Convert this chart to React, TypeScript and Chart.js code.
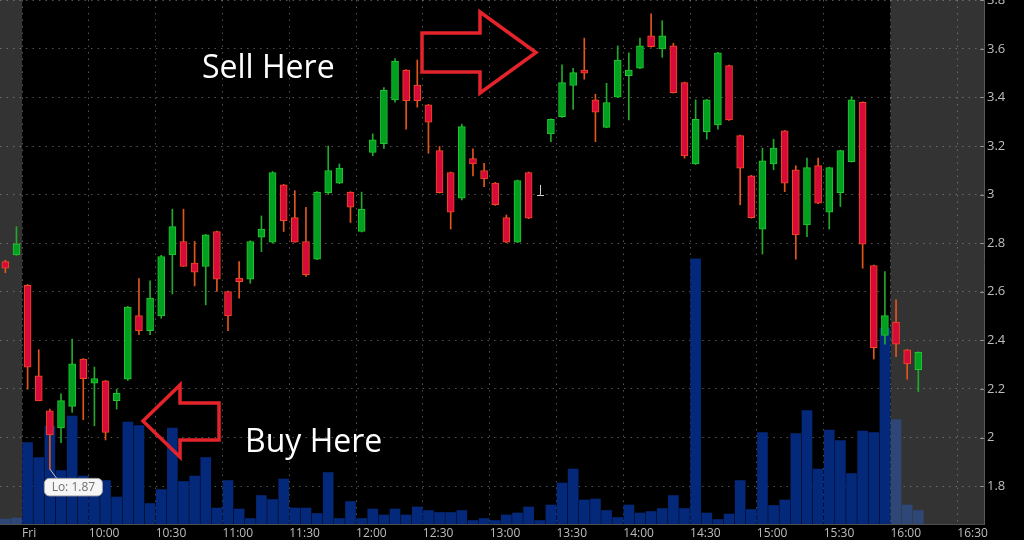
import React, { useEffect, useRef } from "react";
import { Chart, registerables } from "chart.js";
Chart.register(...registerables);

// 5-minute bar start times (Friday session incl. extended hours)
const TIMES: string[] = [
  "09:20", "09:25",
  "09:30", "09:35", "09:40", "09:45", "09:50", "09:55",
  "10:00", "10:05", "10:10", "10:15", "10:20", "10:25",
  "10:30", "10:35", "10:40", "10:45", "10:50", "10:55",
  "11:00", "11:05", "11:10", "11:15", "11:20", "11:25",
  "11:30", "11:35", "11:40", "11:45", "11:50", "11:55",
  "12:00", "12:05", "12:10", "12:15", "12:20", "12:25",
  "12:30", "12:35", "12:40", "12:45", "12:50", "12:55",
  "13:00", "13:05", "13:10", "13:15", "13:20", "13:25",
  "13:30", "13:35", "13:40", "13:45", "13:50", "13:55",
  "14:00", "14:05", "14:10", "14:15", "14:20", "14:25",
  "14:30", "14:35", "14:40", "14:45", "14:50", "14:55",
  "15:00", "15:05", "15:10", "15:15", "15:20", "15:25",
  "15:30", "15:35", "15:40", "15:45", "15:50", "15:55",
  "16:00", "16:05", "16:10",
];

const OPEN: (number | null)[] = [
  2.724, 2.752,
  2.626, 2.254, 2.110, 2.039, 2.128, 2.323,
  2.224, 2.233, 2.152, 2.240, 2.502, 2.440,
  2.501, 2.752, 2.807, 2.718, 2.704, 2.848,
  2.601, 2.656, 2.652, 2.825, 2.804, 3.040,
  2.905, 2.807, 2.734, 3.008, 3.047, 3.010,
  2.848, 3.174, 3.210, 3.390, 3.513, 3.451,
  3.369, 3.181, 3.091, 2.985, 3.148, 3.099,
  3.047, 2.905, 2.804, 3.091, null, 3.250,
  3.321, 3.449, 3.513, 3.390, 3.277, 3.401,
  3.490, 3.520, 3.654, 3.600, 3.612, 3.461,
  3.126, 3.259, 3.287, 3.531, 3.243, 3.077,
  2.858, 3.126, 3.262, 3.102, 2.875, 3.119,
  2.928, 3.008, 3.136, 3.380, 2.708, 2.420,
  2.475, 2.361, 2.279,
];

const HIGH: (number | null)[] = [
  2.730, 2.868,
  2.630, 2.361, 2.117, 2.180, 2.405, 2.325,
  2.290, 2.235, 2.199, 2.540, 2.654, 2.645,
  2.750, 2.940, 2.940, 2.807, 2.836, 2.850,
  2.603, 2.724, 2.810, 2.912, 3.095, 3.042,
  3.016, 2.948, 3.012, 3.200, 3.126, 3.012,
  3.010, 3.250, 3.440, 3.560, 3.515, 3.554,
  3.371, 3.198, 3.093, 3.290, 3.188, 3.129,
  3.050, 2.916, 3.060, 3.093, null, 3.312,
  3.534, 3.520, 3.644, 3.413, 3.458, 3.612,
  3.584, 3.644, 3.744, 3.716, 3.623, 3.463,
  3.390, 3.392, 3.586, 3.533, 3.245, 3.079,
  3.191, 3.228, 3.264, 3.118, 3.150, 3.150,
  3.113, 3.183, 3.403, 3.382, 2.710, 2.683,
  2.567, 2.363, 2.353,
];

const LOW: (number | null)[] = [
  2.678, 2.750,
  2.199, 2.151, 1.870, 1.979, 2.103, 2.073,
  2.048, 1.990, 2.117, 2.235, 2.423, 2.423,
  2.491, 2.591, 2.704, 2.624, 2.546, 2.601,
  2.440, 2.574, 2.635, 2.765, 2.800, 2.848,
  2.804, 2.663, 2.732, 3.000, 3.045, 2.885,
  2.846, 3.160, 3.190, 3.380, 3.269, 3.360,
  3.170, 3.006, 2.858, 2.978, 3.077, 3.033,
  2.956, 2.802, 2.802, 2.901, null, 3.218,
  3.318, 3.351, 3.475, 3.218, 3.275, 3.399,
  3.307, 3.518, 3.607, 3.565, 3.418, 3.150,
  3.124, 3.228, 3.269, 3.305, 2.958, 2.903,
  2.755, 3.102, 3.012, 2.734, 2.827, 2.963,
  2.858, 2.951, 3.134, 2.697, 2.323, 2.384,
  2.333, 2.240, 2.189,
];

const CLOSE: (number | null)[] = [
  2.697, 2.797,
  2.290, 2.151, 2.011, 2.152, 2.303, 2.242,
  2.243, 2.021, 2.183, 2.537, 2.440, 2.574,
  2.745, 2.868, 2.704, 2.681, 2.834, 2.652,
  2.501, 2.642, 2.807, 2.858, 3.091, 2.893,
  2.804, 2.670, 3.010, 3.099, 3.109, 2.948,
  2.940, 3.225, 3.430, 3.550, 3.387, 3.387,
  3.298, 3.008, 2.928, 3.280, 3.126, 3.065,
  2.958, 2.804, 3.058, 2.903, null, 3.310,
  3.461, 3.502, 3.500, 3.339, 3.379, 3.554,
  3.513, 3.612, 3.609, 3.654, 3.420, 3.159,
  3.310, 3.390, 3.584, 3.307, 3.109, 2.905,
  3.139, 3.191, 3.047, 2.834, 3.111, 2.965,
  3.111, 3.181, 3.390, 2.796, 2.370, 2.502,
  2.384, 2.303, 2.351,
];

// volume, thousands of shares
const VOLUME: number[] = [
  10, 12,
  163, 133, 196, 107, 216, 96,
  88, 87, 54, 204, 197, 41,
  69, 192, 85, 96, 133, 32,
  87, 30, 11, 57, 49, 90,
  32, 32, 21, 103, 11, 45,
  11, 30, 18, 30, 18, 34,
  27, 23, 23, 27, 7, 11,
  7, 18, 22, 34, 7, 38,
  82, 110, 48, 50, 27, 13,
  38, 22, 25, 31, 57, 31,
  531, 22, 9, 20, 87, 29,
  183, 37, 48, 181, 227, 110,
  188, 167, 101, 186, 183, 392,
  209, 38, 27,
];

const X_TICKS: string[] = [
  "09:30", "10:00", "10:30", "11:00", "11:30", "12:00", "12:30", "13:00",
  "13:30", "14:00", "14:30", "15:00", "15:30", "16:00", "16:30",
];
const X_TICK_LABELS: string[] = [
  "Fri", "10:00", "10:30", "11:00", "11:30", "12:00", "12:30", "13:00",
  "13:30", "14:00", "14:30", "15:00", "15:30", "16:00", "16:30",
];
const PRICE_TICKS: number[] = [1.8, 2, 2.2, 2.4, 2.6, 2.8, 3, 3.2, 3.4, 3.6, 3.8];

const SESSION_OPEN = "09:30";
const SESSION_CLOSE = "16:00";
const LOW_LABEL_INDEX = 4; // the 09:40 bar
const HALT_MARK_INDEX = 48; // the 13:10 bar
const HALT_MARK_PRICES: number[] = [3.0, 3.04];

const X_MIN = 560.1;
const X_MAX = 1002;
const Y_MIN = 1.644;
const Y_MAX = 3.801;
const VOL_MAX = 1049;

const toMin = (s: string) => {
  const [h, m] = s.split(":").map(Number);
  return h * 60 + m;
};
const center = (s: string) => toMin(s) + 2.5;

const UP_FILL = "#02a021";
const UP_BORDER = "#25c531";
const UP_WICK = "#22a82c";
const DN_FILL = "#d70a3a";
const DN_BORDER = "#f24a1d";
const DN_WICK = "#e2561c";
const VOL_COLOR = "#04297a";
const VOL_EXT_COLOR = "#2e4777";
const GRID = "rgba(165,165,165,0.5)";
const TICK_TEXT = "#bdbdbd";

const idx = TIMES.map((_, i) => i).filter((i) => OPEN[i] !== null);
const isUp = (i: number) => (CLOSE[i] as number) >= (OPEN[i] as number);
const isExt = (t: string) => toMin(t) < toMin(SESSION_OPEN) || toMin(t) >= toMin(SESSION_CLOSE);

const bgPlugin = {
  id: "bg",
  beforeDraw(chart: any) {
    const { ctx, chartArea: ca, scales } = chart;
    ctx.save();
    ctx.fillStyle = "#000";
    ctx.fillRect(0, 0, chart.width, chart.height);
    ctx.fillStyle = "#333333";
    const a = scales.x.getPixelForValue(toMin(SESSION_OPEN));
    const b = scales.x.getPixelForValue(toMin(SESSION_CLOSE));
    ctx.fillRect(ca.left, ca.top, a - ca.left, ca.bottom - ca.top);
    ctx.fillRect(b, ca.top, ca.right - b, ca.bottom - ca.top);
    ctx.restore();
  },
};

const overlayPlugin = {
  id: "overlay",
  afterDraw(chart: any) {
    const { ctx, chartArea: ca, scales } = chart;
    const xs = scales.x;
    const ys = scales.y;
    ctx.save();
    // inward price ticks
    ctx.strokeStyle = "#8c8c8c";
    ctx.lineWidth = 1;
    for (const v of PRICE_TICKS) {
      const py = Math.round(ys.getPixelForValue(v)) + 0.5;
      ctx.beginPath();
      ctx.moveTo(ca.right - 4, py);
      ctx.lineTo(ca.right, py);
      ctx.stroke();
    }

    // halt marker
    const hx = Math.round(xs.getPixelForValue(center(TIMES[HALT_MARK_INDEX]))) + 0.5;
    const hy1 = ys.getPixelForValue(HALT_MARK_PRICES[1]);
    const hy0 = ys.getPixelForValue(HALT_MARK_PRICES[0]);
    ctx.strokeStyle = "#cfcfcf";
    ctx.lineWidth = 1;
    ctx.beginPath();
    ctx.moveTo(hx, hy1);
    ctx.lineTo(hx, hy0);
    ctx.moveTo(hx - 3.5, Math.round(hy0) + 0.5);
    ctx.lineTo(hx + 3.5, Math.round(hy0) + 0.5);
    ctx.stroke();

    // arrows
    const L = ca.left;
    const T = ca.top;
    ctx.strokeStyle = "#e4232a";
    ctx.lineWidth = 3.5;
    ctx.lineJoin = "miter";
    const sell = [[422, 33], [480, 33], [480, 12], [536, 52.5], [480, 93], [480, 72], [422, 72]];
    const buy = [[143, 421], [180, 385], [180, 403], [219, 403], [219, 440], [180, 440], [180, 457]];
    for (const pts of [sell, buy]) {
      ctx.beginPath();
      pts.forEach(([px, py], k) => (k ? ctx.lineTo(L + px, T + py) : ctx.moveTo(L + px, T + py)));
      ctx.closePath();
      ctx.stroke();
    }

    // texts
    ctx.fillStyle = "#ffffff";
    ctx.font = '32px "Open Sans", sans-serif';
    ctx.textBaseline = "alphabetic";
    ctx.textAlign = "left";
    ctx.fillText("Sell Here", L + 202, T + 78);
    ctx.fillText("Buy Here", L + 245, T + 452);

    // low bubble
    const ax = xs.getPixelForValue(center(TIMES[LOW_LABEL_INDEX]));
    const ay = ys.getPixelForValue(LOW[LOW_LABEL_INDEX] as number);
    ctx.strokeStyle = "#c9c9c9";
    ctx.lineWidth = 1;
    ctx.beginPath();
    ctx.moveTo(ax, ay);
    ctx.lineTo(ax + 7, ay + 9.5);
    ctx.stroke();
    const rx = ax - 5.5, ry = ay + 9.3, rw = 58, rh = 17.5;
    ctx.beginPath();
    ctx.roundRect(rx, ry, rw, rh, 5);
    ctx.fillStyle = "#f6f6f6";
    ctx.fill();
    ctx.strokeStyle = "#a9a9a9";
    ctx.stroke();
    ctx.fillStyle = "#6f6f6f";
    ctx.font = '12px "Open Sans", sans-serif';
    ctx.textAlign = "center";
    ctx.textBaseline = "middle";
    ctx.fillText("Lo: " + (LOW[LOW_LABEL_INDEX] as number).toFixed(2), rx + rw / 2, ry + rh / 2 + 0.5);
    ctx.restore();
  },
};

export default function App() {
  const ref = useRef<HTMLCanvasElement>(null);
  useEffect(() => {
    document.body.style.margin = "0";
    document.body.style.background = "#000";
    const chart = new Chart(ref.current as HTMLCanvasElement, {
      type: "bar",
      data: {
        datasets: [
          {
            label: "bodies",
            data: idx.map((i) => ({ x: center(TIMES[i]), y: [OPEN[i], CLOSE[i]] })) as any,
            backgroundColor: idx.map((i) => (isUp(i) ? UP_FILL : DN_FILL)),
            borderColor: idx.map((i) => (isUp(i) ? UP_BORDER : DN_BORDER)),
            borderWidth: 1,
            borderSkipped: false,
            barThickness: 7,
            grouped: false,
            yAxisID: "y",
            order: 1,
          } as any,
          {
            label: "wicks",
            data: idx.map((i) => ({ x: center(TIMES[i]), y: [LOW[i], HIGH[i]] })) as any,
            backgroundColor: idx.map((i) => (isUp(i) ? UP_WICK : DN_WICK)),
            borderWidth: 0,
            barThickness: 1,
            grouped: false,
            yAxisID: "y",
            order: 2,
          } as any,
          {
            label: "volume",
            data: TIMES.map((t, i) => ({ x: center(t), y: VOLUME[i] })) as any,
            backgroundColor: TIMES.map((t) => (isExt(t) ? VOL_EXT_COLOR : VOL_COLOR)),
            borderWidth: 0,
            barThickness: 10,
            grouped: false,
            yAxisID: "yv",
            order: 3,
          } as any,
        ],
      },
      options: {
        responsive: false,
        animation: false,
        events: [],
        layout: { padding: 0 },
        plugins: { legend: { display: false }, tooltip: { enabled: false } },
        scales: {
          x: {
            type: "linear",
            min: X_MIN,
            max: X_MAX,
            offset: false,
            afterBuildTicks: (s: any) => {
              s.ticks = X_TICKS.map((t) => ({ value: toMin(t) }));
            },
            afterFit: (s: any) => {
              s.height = 16;
              s.paddingLeft = 0;
              s.paddingRight = 0;
            },
            ticks: {
              autoSkip: false,
              maxRotation: 0,
              align: "start",
              padding: 2,
              color: TICK_TEXT,
              font: { family: "'Open Sans', sans-serif", size: 12 },
              callback: (v: any) => {
                const k = X_TICKS.findIndex((t) => toMin(t) === v);
                return k >= 0 ? X_TICK_LABELS[k] : "";
              },
            },
            grid: { color: GRID, drawTicks: false, offset: false },
            border: { display: true, color: "#4e4e4e", dash: [1.5, 5] },
          } as any,
          y: {
            position: "right",
            min: Y_MIN,
            max: Y_MAX,
            afterBuildTicks: (s: any) => {
              s.ticks = PRICE_TICKS.map((v) => ({ value: v }));
            },
            afterFit: (s: any) => {
              s.width = 40;
              s.paddingTop = 0;
              s.paddingBottom = 0;
            },
            ticks: {
              padding: 3,
              color: TICK_TEXT,
              font: { family: "'Open Sans', sans-serif", size: 13 },
              callback: (v: any) => String(Number(Number(v).toFixed(1))),
            },
            grid: { color: GRID, drawTicks: false },
            border: { display: true, color: "#5a5a5a", dash: [1.5, 5] },
          } as any,
          yv: {
            display: false,
            min: 0,
            max: VOL_MAX,
          },
        },
      },
      plugins: [bgPlugin, overlayPlugin],
    });
    return () => chart.destroy();
  }, []);
  return (
    <div style={{ width: 1024, height: 540, background: "#000" }}>
      <canvas ref={ref} width={1024} height={540} style={{ display: "block", width: 1024, height: 540 }} />
    </div>
  );
}
